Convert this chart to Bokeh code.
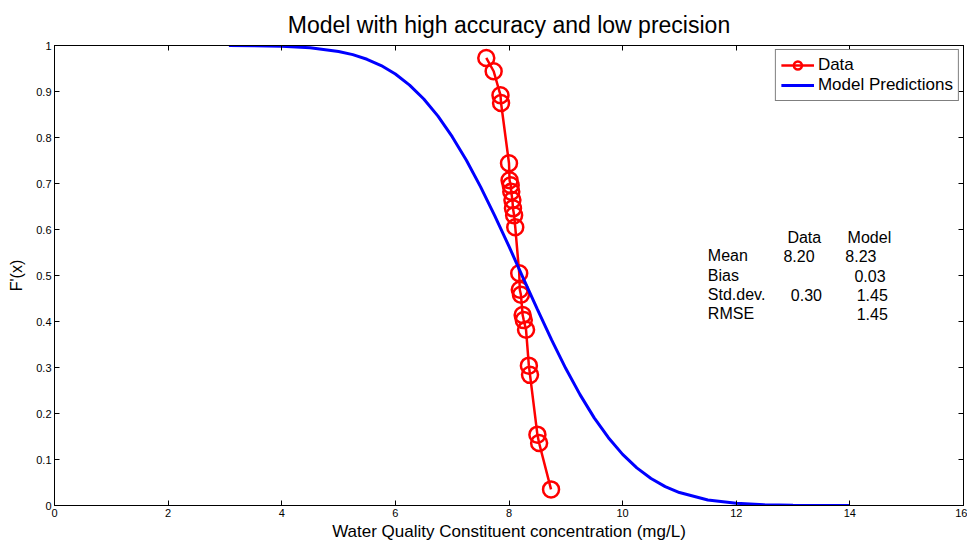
from bokeh.plotting import figure
from bokeh.models import Range1d, FixedTicker, LinearAxis, Legend, LegendItem
from bokeh.embed import file_html
from bokeh.resources import INLINE
from bokeh.core.properties import value

# Observed concentrations and their exceedance values F'(x)
data_x = [7.60, 7.73, 7.85, 7.86, 8.00, 8.01, 8.03, 8.04, 8.06, 8.07, 8.09, 8.11,
          8.18, 8.19, 8.21, 8.24, 8.26, 8.30, 8.35, 8.37, 8.50, 8.53, 8.74]
data_f = [0.973, 0.944, 0.892, 0.875, 0.744, 0.707, 0.696, 0.682, 0.664, 0.646, 0.631, 0.605,
          0.505, 0.469, 0.458, 0.414, 0.403, 0.382, 0.304, 0.284, 0.154, 0.136, 0.035]

# Model prediction curve
model_x = [3.07, 3.5, 4.0, 4.5, 5.0, 5.25, 5.5, 5.75, 6.0, 6.25, 6.5, 6.75, 7.0, 7.25,
           7.5, 7.75, 8.0, 8.25, 8.5, 8.75, 9.0, 9.25, 9.5, 9.75, 10.0, 10.25, 10.5,
           10.75, 11.0, 11.5, 12.0, 12.5, 13.0, 14.0]
model_f = [0.9998, 0.9995, 0.9982, 0.9949, 0.9871, 0.9801, 0.9701, 0.9564, 0.9380, 0.9140,
           0.8836, 0.8464, 0.8018, 0.7505, 0.6926, 0.6297, 0.5632, 0.4945, 0.4262, 0.3599,
           0.2977, 0.2410, 0.1905, 0.1473, 0.1111, 0.0818, 0.0587, 0.0411, 0.0281, 0.0121,
           0.0047, 0.0016, 0.0005, 0.0000]

# Summary statistics table
stat_headers = ["Data", "Model"]
stat_names = ["Mean", "Bias", "Std.dev.", "RMSE"]
stat_data = ["8.20", "", "0.30", ""]
stat_model = ["8.23", "0.03", "1.45", "1.45"]

x_ticks = [0, 2, 4, 6, 8, 10, 12, 14, 16]
y_ticks = [0, 0.1, 0.2, 0.3, 0.4, 0.5, 0.6, 0.7, 0.8, 0.9, 1]
y_tick_labels = ["0", "0.1", "0.2", "0.3", "0.4", "0.5", "0.6", "0.7", "0.8", "0.9", "1"]

FONT = "Liberation Sans"

p = figure(width=967, height=543, output_backend="svg", toolbar_location=None,
           x_range=Range1d(0, 16), y_range=Range1d(0, 1),
           min_border_left=54, min_border_right=4, min_border_top=45, min_border_bottom=37,
           title="Model with high accuracy and low precision")
p.background_fill_color = "white"
p.border_fill_color = "white"
p.outline_line_color = "black"
p.grid.visible = False

p.title.align = "center"
p.title.text_font = FONT
p.title.text_font_size = "23px"
p.title.text_font_style = "normal"
p.title.text_color = "black"
p.title.standoff = 16


def style_axis(ax):
    ax.axis_line_color = "black"
    ax.axis_line_width = 1
    ax.major_tick_in = 5
    ax.major_tick_out = 0
    ax.major_tick_line_color = "black"
    ax.minor_tick_line_color = None
    ax.major_label_text_font = FONT
    ax.major_label_text_color = "black"
    ax.major_label_text_font_size = "11px"
    ax.major_label_standoff = 3
    ax.axis_label_text_font = FONT
    ax.axis_label_text_font_size = "17px"
    ax.axis_label_text_font_style = "normal"
    ax.axis_label_text_color = "black"


xax = p.xaxis[0]
xax.ticker = FixedTicker(ticks=x_ticks)
xax.axis_label = "Water Quality Constituent concentration (mg/L)"
xax.axis_label_standoff = 2
style_axis(xax)

yax = p.yaxis[0]
yax.ticker = FixedTicker(ticks=y_ticks)
yax.major_label_overrides = dict(zip(y_ticks, y_tick_labels))
yax.axis_label = "F'(x)"
yax.axis_label_standoff = 8
style_axis(yax)
yax.axis_label_text_font_size = "16px"

# Box axes on the top and right: ticks only, blank labels
top_ax = LinearAxis(ticker=FixedTicker(ticks=x_ticks),
                    major_label_overrides={t: "" for t in x_ticks})
style_axis(top_ax)
top_ax.major_label_standoff = 0
p.add_layout(top_ax, "above")

right_ax = LinearAxis(ticker=FixedTicker(ticks=y_ticks),
                      major_label_overrides={t: "" for t in y_ticks})
style_axis(right_ax)
right_ax.major_label_standoff = 0
p.add_layout(right_ax, "right")

# Observed data: red line through open circles
data_line = p.line(data_x, data_f, line_color="#ff0000", line_width=2.5)
data_pts = p.scatter(data_x, data_f, marker="circle", size=16, fill_color=None,
                     line_color="#ff0000", line_width=2.5)

# Model curve
model_line = p.line(model_x, model_f, line_color="#0000ff", line_width=3)

# Statistics table text
col_name_x = 11.50
col_data_x = [12.83, 12.83, 12.96, 12.96]
col_model_x = [13.92, 14.08, 14.12, 14.12]
header_x = [12.90, 13.96]
header_y = 0.583
row_y = [0.543, 0.500, 0.458, 0.417]

text_kw = dict(text_font=value(FONT), text_font_size="16px", text_color="black",
               text_baseline="alphabetic", text_align="left")
p.text(x=header_x, y=[header_y] * len(stat_headers), text=stat_headers, **text_kw)
p.text(x=[col_name_x] * len(stat_names), y=row_y, text=stat_names, **text_kw)
p.text(x=col_data_x, y=row_y, text=stat_data, **text_kw)
p.text(x=col_model_x, y=row_y, text=stat_model, **text_kw)

legend = Legend(items=[LegendItem(label="Data", renderers=[data_line, data_pts]),
                       LegendItem(label="Model Predictions", renderers=[model_line])],
                location="top_right")
legend.label_text_font = FONT
legend.label_text_font_size = "17px"
legend.label_text_color = "black"
legend.border_line_color = "black"
legend.border_line_width = 1
legend.background_fill_color = "white"
legend.background_fill_alpha = 1
legend.glyph_width = 33
legend.glyph_height = 20
legend.label_height = 20
legend.label_standoff = 4
legend.spacing = 0
legend.padding = 5
legend.margin = 4
p.add_layout(legend)

open("out.html", "w").write(file_html(p, INLINE))
